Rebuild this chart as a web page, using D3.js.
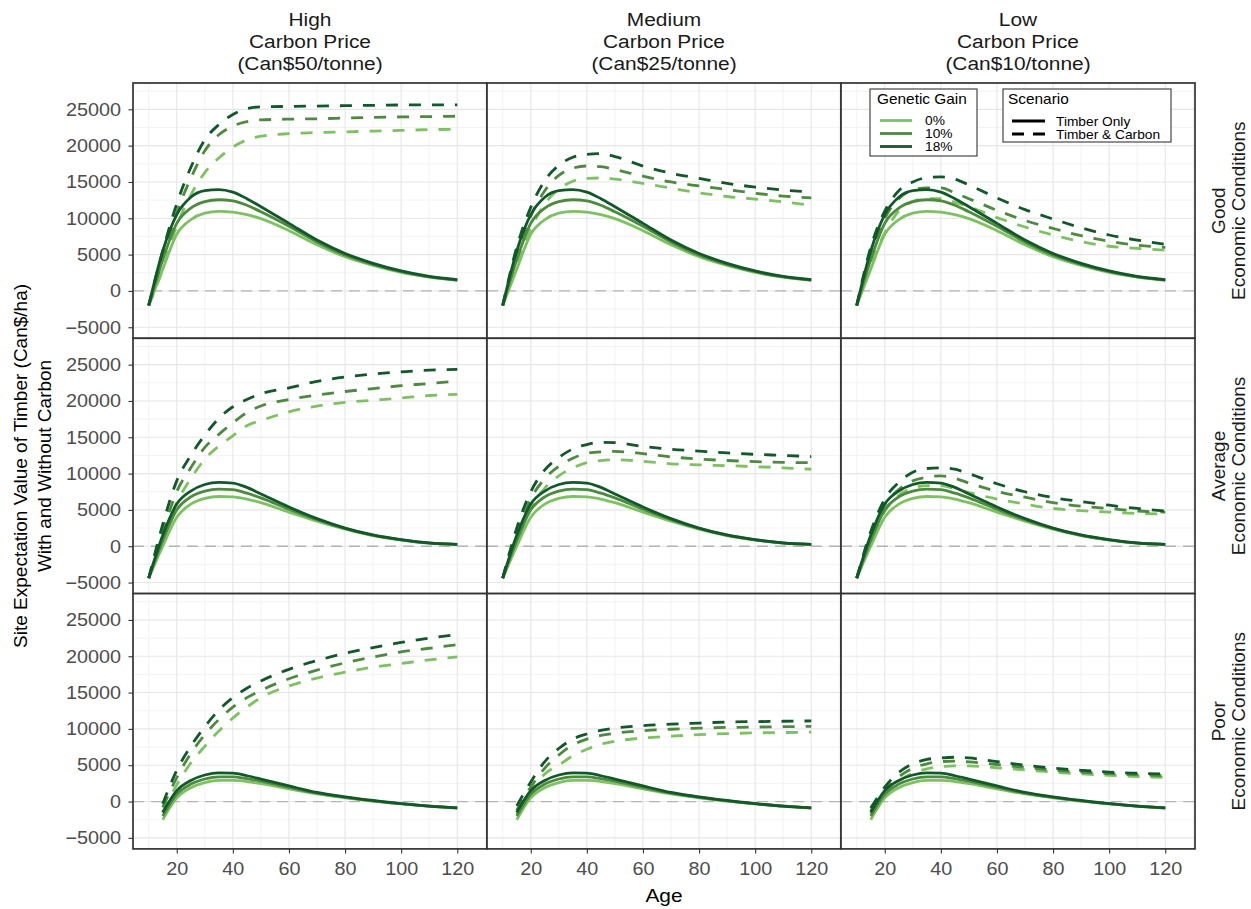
<!DOCTYPE html>
<html>
<head>
<meta charset="utf-8">
<script src="https://cdn.jsdelivr.net/npm/d3@7"></script>
<style>
  body { margin: 0; background: #fff; }
  text { font-family: "Liberation Sans", Arial, Helvetica, sans-serif; }
</style>
</head>
<body>
<div class="chart"></div>
<script>
// ---- data ----
const columns = ["High", "Medium", "Low"];
const columnLabels = [
  ["High", "Carbon Price", "(Can$50/tonne)"],
  ["Medium", "Carbon Price", "(Can$25/tonne)"],
  ["Low", "Carbon Price", "(Can$10/tonne)"]
];
const rows = ["Good", "Average", "Poor"];
const gains = ["0%", "10%", "18%"];
const scenarios = ["Timber Only", "Timber & Carbon"];

const ages = [10, 15, 20, 25, 30, 35, 40, 45, 50, 60, 70, 80, 90, 100, 110, 120];
const agesPoor = [15, 20, 25, 30, 35, 40, 45, 50, 60, 70, 80, 90, 100, 110, 120];

// timber only (same for every carbon price), order 0%, 10%, 18%
const timberGood = [
  [-2000, 3000, 7800, 9800, 10700, 10950, 10850, 10500, 9950, 8300, 6350, 4700, 3500, 2550, 1900, 1450],
  [-2000, 4300, 9300, 11400, 12300, 12550, 12400, 11800, 10900, 8900, 6750, 4950, 3650, 2650, 1950, 1500],
  [-2000, 5500, 10500, 12900, 13800, 13950, 13600, 12700, 11600, 9300, 7000, 5150, 3800, 2750, 2000, 1550]
];
const timberAverage = [
  [-4400, 0, 4000, 5800, 6600, 6850, 6800, 6500, 6000, 4700, 3450, 2350, 1450, 850, 420, 240],
  [-4400, 800, 5000, 6800, 7600, 7850, 7800, 7300, 6650, 5100, 3650, 2450, 1500, 880, 440, 250],
  [-4400, 1500, 5800, 7600, 8500, 8800, 8700, 8100, 7200, 5400, 3800, 2500, 1550, 900, 450, 250]
];
const timberPoor = [
  [-2500, 500, 1900, 2600, 2900, 2900, 2750, 2450, 1750, 1050, 520, 60, -320, -650, -890],
  [-2000, 1000, 2400, 3100, 3400, 3400, 3150, 2800, 1950, 1150, 580, 100, -300, -640, -880],
  [-1500, 1500, 2900, 3650, 3950, 3900, 3550, 3100, 2150, 1250, 650, 150, -280, -620, -870]
];

// timber & carbon, order 0%, 10%, 18%
const carbonGoodHigh = [
  [-2000, 3000, 9000, 13200, 16300, 18300, 19800, 20800, 21300, 21650, 21800, 21900, 22000, 22100, 22200, 22250],
  [-2000, 4500, 10800, 15500, 19300, 21500, 22700, 23300, 23550, 23650, 23700, 23800, 23900, 23950, 24000, 24050],
  [-2000, 5500, 12000, 17000, 20800, 22900, 24300, 25100, 25350, 25400, 25450, 25500, 25550, 25600, 25600, 25600]
];
const carbonGoodMedium = [
  [-2000, 3500, 8500, 12000, 14000, 15100, 15500, 15550, 15400, 14800, 14150, 13500, 13000, 12650, 12250, 11800],
  [-2000, 5000, 10300, 13800, 15900, 16900, 17200, 17100, 16700, 15800, 15000, 14450, 13950, 13450, 13050, 12800],
  [-2000, 6000, 11500, 15200, 17300, 18400, 18800, 18900, 18500, 17200, 16200, 15500, 14800, 14300, 13900, 13600]
];
const carbonGoodLow = [
  [-2000, 3500, 8000, 11000, 12300, 12700, 12700, 12200, 11600, 10100, 8800, 7700, 6800, 6150, 5850, 5600],
  [-2000, 5000, 10000, 12700, 13900, 14200, 14200, 13500, 12700, 11100, 9700, 8600, 7600, 6850, 6300, 6000],
  [-2000, 6000, 11000, 13800, 15000, 15600, 15700, 15400, 14600, 12800, 11200, 9900, 8700, 7700, 7000, 6400]
];
const carbonAverageHigh = [
  [-4400, 1000, 6000, 9300, 12000, 13800, 15200, 16600, 17300, 18500, 19300, 19800, 20100, 20400, 20750, 20900],
  [-4400, 2000, 7500, 10800, 13600, 15400, 17000, 18400, 19300, 20200, 20800, 21300, 21700, 22100, 22400, 22750],
  [-4400, 3000, 9000, 12500, 15300, 17600, 19200, 20200, 21000, 21800, 22700, 23300, 23700, 24000, 24250, 24350]
];
const carbonAverageMedium = [
  [-4400, 500, 5300, 8000, 9700, 10800, 11500, 11800, 11900, 11700, 11350, 11200, 11100, 10950, 10800, 10600],
  [-4400, 1500, 6500, 9300, 11000, 12100, 12800, 13000, 13050, 12750, 12300, 12000, 11800, 11650, 11550, 11500],
  [-4400, 2500, 7500, 10500, 12200, 13400, 14000, 14300, 14250, 13750, 13350, 13100, 12850, 12650, 12500, 12350]
];
const carbonAverageLow = [
  [-4400, 500, 4800, 7000, 8000, 8350, 8350, 7900, 7400, 6500, 5800, 5200, 4900, 4700, 4500, 4450],
  [-4400, 1200, 5700, 7800, 9000, 9500, 9700, 9350, 8700, 7550, 6750, 6000, 5500, 5200, 4850, 4700],
  [-4400, 2000, 6500, 8800, 10200, 10700, 10800, 10600, 10000, 8600, 7500, 6700, 6150, 5650, 5200, 4850]
];
const carbonPoorHigh = [
  [-1500, 2300, 5300, 7600, 9700, 11500, 13000, 14300, 15900, 17000, 17800, 18500, 19000, 19500, 19900],
  [-800, 3300, 6600, 9200, 11300, 13000, 14300, 15300, 16900, 18100, 19100, 19900, 20600, 21100, 21600],
  [-300, 4300, 7600, 10300, 12600, 14300, 15600, 16600, 18200, 19400, 20400, 21200, 21900, 22500, 23000]
];
const carbonPoorMedium = [
  [-1800, 1300, 3800, 5000, 6300, 7200, 7900, 8300, 8750, 9000, 9200, 9350, 9450, 9500, 9550],
  [-1200, 2000, 4600, 6400, 7800, 8600, 9100, 9400, 9750, 9950, 10100, 10200, 10250, 10300, 10350],
  [-600, 2700, 5500, 7300, 8600, 9300, 9800, 10100, 10450, 10650, 10800, 10950, 11000, 11050, 11100]
];
const carbonPoorLow = [
  [-1800, 900, 2800, 3900, 4500, 4800, 4900, 4900, 4650, 4350, 4050, 3800, 3600, 3450, 3300],
  [-1300, 1500, 3400, 4600, 5200, 5500, 5550, 5450, 5100, 4700, 4300, 4050, 3850, 3700, 3550],
  [-900, 2000, 4000, 5200, 5800, 6000, 6100, 6000, 5500, 5000, 4600, 4300, 4050, 3900, 3800]
];

const xTicks = [20, 40, 60, 80, 100, 120];
const yTicks = [-5000, 0, 5000, 10000, 15000, 20000, 25000];

// ---- layout ----
const width = 1251, height = 909;
const margin = ({top: 83, left: 133});
const panelW = 354, panelH = 255.3;
const SX = 1.1; // the reference text is a bit wider than tall

const gainColor = d3.scaleOrdinal().domain(gains).range(["#7cc35f", "#4b8b3b", "#10592a"]);
const dashPattern = "12,11";

const timber = {Good: timberGood, Average: timberAverage, Poor: timberPoor};
const carbon = {
  Good: {High: carbonGoodHigh, Medium: carbonGoodMedium, Low: carbonGoodLow},
  Average: {High: carbonAverageHigh, Medium: carbonAverageMedium, Low: carbonAverageLow},
  Poor: {High: carbonPoorHigh, Medium: carbonPoorMedium, Low: carbonPoorLow}
};

const x = d3.scaleLinear().domain([4.4, 130.6]).range([0, panelW]);
const y = d3.scaleLinear().domain([-6520, 28625]).range([panelH, 0]);

const line = d3.line()
  .x(d => x(d.age))
  .y(d => y(d.value))
  .curve(d3.curveMonotoneX);

const svg = d3.select(".chart").append("svg")
  .attr("width", width)
  .attr("height", height);

svg.append("rect").attr("width", width).attr("height", height).attr("fill", "#fff");

function hText(g, px, py, str, size, anchor, fill) {
  return g.append("text")
    .attr("transform", "translate(" + px + "," + py + ") scale(" + SX + ",1)")
    .attr("text-anchor", anchor)
    .attr("font-size", size)
    .attr("fill", fill)
    .text(str);
}

rows.forEach(function(rowKey, r) {
  columns.forEach(function(colKey, c) {
    const g = svg.append("g")
      .attr("transform", "translate(" + (margin.left + c * panelW) + "," + (margin.top + r * panelH) + ")");

    g.append("rect").attr("width", panelW).attr("height", panelH).attr("fill", "#fff");

    // minor grid
    d3.range(10, 131, 20).forEach(v => {
      g.append("line").attr("x1", x(v)).attr("x2", x(v)).attr("y1", 0).attr("y2", panelH)
        .attr("stroke", "#f0f0f0").attr("stroke-width", 0.8);
    });
    d3.range(-2500, 28000, 5000).forEach(v => {
      g.append("line").attr("x1", 0).attr("x2", panelW).attr("y1", y(v)).attr("y2", y(v))
        .attr("stroke", "#f0f0f0").attr("stroke-width", 0.8);
    });
    // major grid
    xTicks.forEach(v => {
      g.append("line").attr("x1", x(v)).attr("x2", x(v)).attr("y1", 0).attr("y2", panelH)
        .attr("stroke", "#e6e6e6").attr("stroke-width", 1.1);
    });
    yTicks.forEach(v => {
      g.append("line").attr("x1", 0).attr("x2", panelW).attr("y1", y(v)).attr("y2", y(v))
        .attr("stroke", "#e6e6e6").attr("stroke-width", 1.1);
    });

    // zero reference
    g.append("line").attr("x1", 0).attr("x2", panelW).attr("y1", y(0)).attr("y2", y(0))
      .attr("stroke", "#b3b3b3").attr("stroke-width", 1.3).attr("stroke-dasharray", "11,7");

    const xs = rowKey === "Poor" ? agesPoor : ages;
    const series = [];
    gains.forEach((gain, i) => {
      series.push({gain: gain, scenario: "Timber Only",
        values: xs.map((a, k) => ({age: a, value: timber[rowKey][i][k]}))});
      series.push({gain: gain, scenario: "Timber & Carbon",
        values: xs.map((a, k) => ({age: a, value: carbon[rowKey][colKey][i][k]}))});
    });

    g.selectAll("path.series")
      .data(series)
      .enter()
      .append("path")
      .attr("class", "series")
      .attr("fill", "none")
      .attr("stroke", d => gainColor(d.gain))
      .attr("stroke-width", 2.8)
      .attr("stroke-linejoin", "round")
      .attr("stroke-dasharray", d => d.scenario === "Timber Only" ? null : dashPattern)
      .attr("d", d => line(d.values));

    // axes on the outside panels only
    if (c === 0) {
      const ya = g.append("g").call(d3.axisLeft(y).tickValues(yTicks).tickSize(4.5).tickPadding(6.4)
        .tickFormat(d => d < 0 ? "\u2212" + Math.abs(d) : d));
      ya.select(".domain").remove();
      ya.selectAll("line").attr("stroke", "#333").attr("stroke-width", 1.1);
      ya.selectAll("text").attr("fill", "#4d4d4d").attr("font-size", 18)
        .attr("font-family", "Liberation Sans, Arial, sans-serif")
        .attr("transform", "scale(" + SX + ",1)");
    }
    if (r === rows.length - 1) {
      const xa = g.append("g").attr("transform", "translate(0," + panelH + ")")
        .call(d3.axisBottom(x).tickValues(xTicks).tickSize(4.5).tickPadding(8.5));
      xa.select(".domain").remove();
      xa.selectAll("line").attr("stroke", "#333").attr("stroke-width", 1.1);
      xa.selectAll("text").attr("fill", "#4d4d4d").attr("font-size", 18)
        .attr("font-family", "Liberation Sans, Arial, sans-serif")
        .attr("transform", "scale(" + SX + ",1)");
    }

    g.append("rect").attr("width", panelW).attr("height", panelH)
      .attr("fill", "none").attr("stroke", "#333").attr("stroke-width", 1.7);
  });
});

// column strips
columnLabels.forEach((lines, c) => {
  const cx = margin.left + c * panelW + panelW / 2;
  lines.forEach((t, k) => hText(svg, cx, 26 + k * 22, t, 19, "middle", "#1a1a1a"));
});

// row strips
rows.forEach((rowKey, r) => {
  const cy = margin.top + r * panelH + panelH / 2;
  [rowKey, "Economic Conditions"].forEach((t, k) => {
    svg.append("text")
      .attr("transform", "translate(" + (1225 + k * 20) + "," + cy + ") rotate(-90)")
      .attr("text-anchor", "middle")
      .attr("font-size", 19)
      .attr("fill", "#1a1a1a")
      .text(t);
  });
});

// axis titles
const midY = margin.top + 1.5 * panelH;
["Site Expectation Value of Timber (Can$/ha)", "With and Without Carbon"].forEach((t, k) => {
  svg.append("text")
    .attr("transform", "translate(" + (27 + k * 24) + "," + midY + ") rotate(-90)")
    .attr("text-anchor", "middle")
    .attr("font-size", 19)
    .attr("fill", "#000")
    .text(t);
});
hText(svg, margin.left + 1.5 * panelW, 902, "Age", 19, "start", "#000")
  .attr("text-anchor", "middle");

// legends (inside the top-right panel)
const lg1 = svg.append("g");
lg1.append("rect").attr("x", 870).attr("y", 89).attr("width", 107).attr("height", 67)
  .attr("fill", "#fff").attr("stroke", "#222").attr("stroke-width", 1);
hText(lg1, 877, 104, "Genetic Gain", 14, "start", "#000");
gains.forEach((gain, i) => {
  const ky = 120.5 + i * 13;
  lg1.append("line").attr("x1", 880).attr("x2", 912).attr("y1", ky).attr("y2", ky)
    .attr("stroke", gainColor(gain)).attr("stroke-width", 2.8);
  hText(lg1, 925, ky + 4.5, gain, 12.5, "start", "#000");
});

const lg2 = svg.append("g");
lg2.append("rect").attr("x", 1003).attr("y", 89).attr("width", 168).attr("height", 53)
  .attr("fill", "#fff").attr("stroke", "#222").attr("stroke-width", 1);
hText(lg2, 1008, 104, "Scenario", 14, "start", "#000");
scenarios.forEach((s, i) => {
  const ky = 121 + i * 13;
  lg2.append("line").attr("x1", 1012).attr("x2", 1045).attr("y1", ky).attr("y2", ky)
    .attr("stroke", "#000").attr("stroke-width", 2.8)
    .attr("stroke-dasharray", i === 0 ? null : "12,9");
  hText(lg2, 1056, ky + 4.5, s, 12.5, "start", "#000");
});
</script>
</body>
</html>
